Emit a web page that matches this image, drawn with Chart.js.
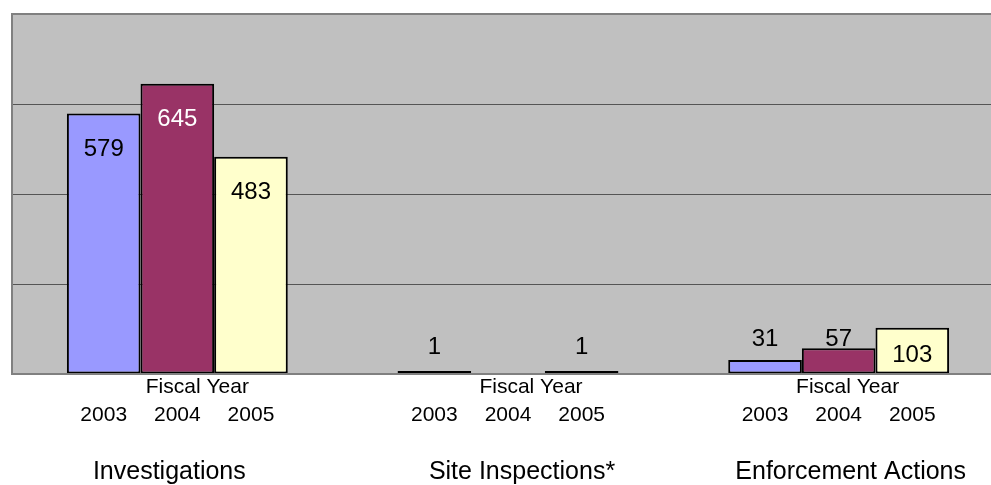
<!DOCTYPE html>
<html>
<head>
<meta charset="utf-8">
<script src="https://cdn.jsdelivr.net/npm/chart.js@4/dist/chart.umd.min.js"></script>
<style>
  html, body { margin: 0; padding: 0; overflow: hidden; background: #fff; }
  #wrap { width: 1006px; height: 485px; }
</style>
</head>
<body>
<div id="wrap"><canvas id="chart"></canvas></div>
<script>
'use strict';
// categories and years
const CATEGORIAS = ['Investigations', 'Site Inspections*', 'Enforcement Actions']
const ANOS = ['2003', '2004', '2005']
// values per fiscal year (site inspections 2004 has no bar)
const V2003 = [579, 1, 31]
const V2004 = [645, null, 57]
const V2005 = [483, 1, 103]
const Y_TICKS = [0, 200, 400, 600, 800]

const COR_2003 = '#9999FF'
const COR_2004 = '#993366'
const COR_2005 = '#FFFFCC'
const FONTE = '"Liberation Sans", Arial, sans-serif'
// small nudges for the texts under each group
const DESLOC_FISCAL = [20, 23, 9]
const DESLOC_NOME = [-8, 14, 12]

// gray plot area + border
const fundo = {
    id: 'fundo',
    beforeDraw(chart) {
        const { ctx, chartArea: a } = chart
        ctx.save()
        ctx.fillStyle = '#C0C0C0'
        ctx.fillRect(a.left, a.top, a.right - a.left, a.bottom - a.top)
        ctx.restore()
    },
    afterDatasetsDraw(chart) {
        const { ctx, chartArea: a } = chart
        ctx.save()
        ctx.strokeStyle = '#808080'
        ctx.lineWidth = 2
        ctx.strokeRect(a.left, a.top, a.right - a.left, a.bottom - a.top)
        ctx.restore()
    }
}

// value labels + axis texts
const rotulos = {
    id: 'rotulos',
    afterDraw(chart) {
        const ctx = chart.ctx
        ctx.save()
        ctx.textAlign = 'center'
        ctx.textBaseline = 'middle'
        chart.data.datasets.forEach((ds, di) => {
            const meta = chart.getDatasetMeta(di)
            meta.data.forEach((bar, i) => {
                const v = ds.data[i]
                if (v == null) return
                const h = bar.base - bar.y
                let y, cor = '#000'
                if (h > 40) {
                    y = bar.y + Math.min(36, h * 0.6)
                    if (di === 1) cor = '#fff'
                } else {
                    y = h < 5 ? 347 : 339
                }
                ctx.font = '24px ' + FONTE
                ctx.fillStyle = cor
                ctx.fillText(String(v), bar.x, y)
            })
        })
        const xs = chart.scales.x
        ctx.fillStyle = '#000'
        CATEGORIAS.forEach((c, i) => {
            const cx = xs.getPixelForValue(i)
            ctx.font = '21px ' + FONTE
            ctx.fillText('Fiscal Year', cx + DESLOC_FISCAL[i], 387)
            ANOS.forEach((ano, di) => {
                const bar = chart.getDatasetMeta(di).data[i]
                ctx.fillText(ano, bar.x, 415)
            })
            ctx.font = '25px ' + FONTE
            ctx.fillText(c, cx + DESLOC_NOME[i], 472)
        })
        ctx.restore()
    }
}

new Chart(document.getElementById('chart'), {
    type: 'bar',
    data: {
        labels: CATEGORIAS,
        datasets: [
            { label: ANOS[0], data: V2003, backgroundColor: COR_2003 },
            { label: ANOS[1], data: V2004, backgroundColor: COR_2004 },
            { label: ANOS[2], data: V2005, backgroundColor: COR_2005 }
        ]
    },
    options: {
        responsive: true,
        maintainAspectRatio: false,
        animation: false,
        layout: { padding: { left: 12, top: 14, right: 2, bottom: 111 } },
        datasets: {
            bar: {
                borderColor: '#000',
                borderWidth: 2,
                borderSkipped: false,
                minBarLength: 3,
                categoryPercentage: 0.668,
                barPercentage: 1
            }
        },
        plugins: {
            legend: { display: false },
            tooltip: { enabled: false }
        },
        scales: {
            x: { display: false },
            y: {
                min: Y_TICKS[0],
                max: Y_TICKS[Y_TICKS.length - 1],
                afterBuildTicks(axis) { axis.ticks = Y_TICKS.map(v => ({ value: v })) },
                ticks: { display: false },
                border: { display: false },
                grid: { color: '#555555', lineWidth: 1, drawTicks: false }
            }
        }
    },
    plugins: [fundo, rotulos]
})
</script>
</body>
</html>
